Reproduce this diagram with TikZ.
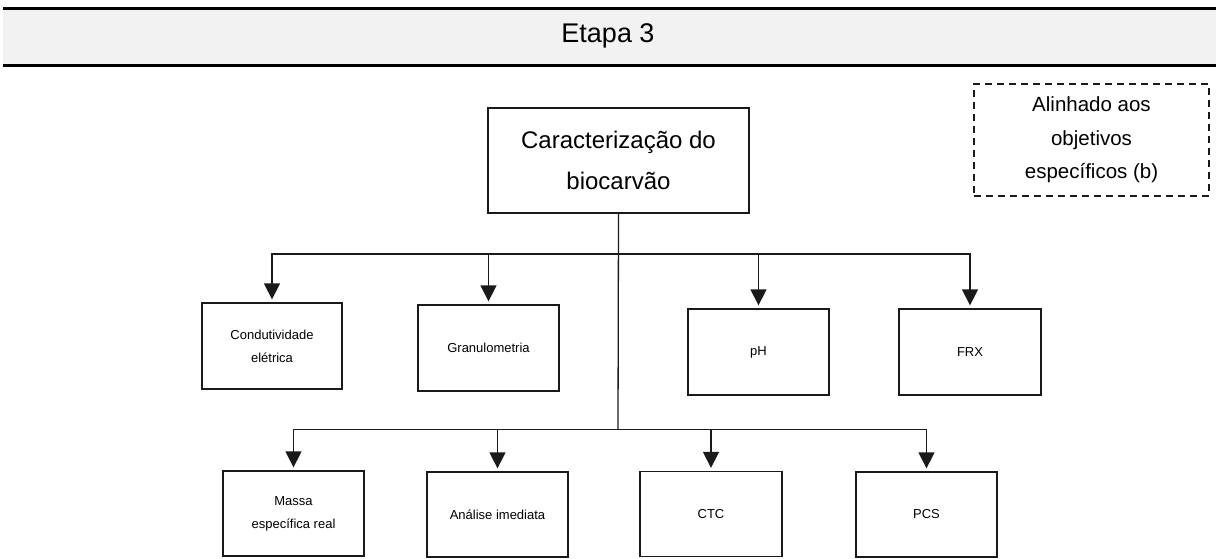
\documentclass[tikz,border=0pt]{standalone}
\usepackage{fontspec}
\setmainfont{Liberation Sans}
\usetikzlibrary{arrows.meta}
\definecolor{bandgray}{HTML}{F2F2F2}
\definecolor{linec}{HTML}{1A1A1A}
\tikzset{
  box/.style={draw=linec, line width=1.3pt, fill=white, align=center, inner sep=0pt},
  smallbox/.style={box, minimum width=141pt, minimum height=86pt, font=\fontsize{13}{23}\selectfont},
  mainbox/.style={box, minimum width=261pt, minimum height=105pt, font=\fontsize{24}{41}\selectfont},
  notebox/.style={draw=linec, line width=1.2pt, dash pattern=on 7pt off 5pt, align=center, inner sep=0pt,
     minimum width=235pt, minimum height=112pt, font=\fontsize{20.5}{33.5}\selectfont},
  conn/.style={draw=linec, line width=1.3pt},
  arr/.style={conn, -{Triangle[length=16pt,width=16pt]}, shorten >=3pt},
}
\begin{document}
\begin{tikzpicture}[x=1pt,y=-1pt]
\useasboundingbox (0,0) rectangle (1216,558);
% header band
\fill[bandgray] (3,9) rectangle (1216,65);
\draw[black, line width=2.2pt] (3,8.5) -- (1216,8.5);
\draw[black, line width=2.2pt] (3,65.5) -- (1216,65.5);
\node[font=\fontsize{27}{30}\selectfont, inner sep=0pt] (title) at (608,36) {Etapa 3};
% main box
\node[mainbox] (main) at (618.5,160.5) {Caracterização do\\biocarvão};
% note box
\node[notebox] (note) at (1091.5,140) {Alinhado aos\\objetivos\\específicos (b)};
% first row
\node[smallbox, minimum width=140pt] (cond) at (272,346) {Condutividade\\elétrica};
\node[smallbox] (gran) at (488.5,348) {Granulometria};
\node[smallbox] (ph) at (758.5,352) {pH};
\node[smallbox, minimum width=142pt] (frx) at (970,352) {FRX};
% second row
\node[smallbox, minimum height=85pt] (massa) at (293.5,513.5) {Massa\\específica real};
\node[smallbox, minimum height=85pt] (ana) at (497.5,514.5) {Análise imediata};
\node[smallbox, minimum width=142pt, minimum height=85pt] (ctc) at (711,514) {CTC};
\node[smallbox, minimum height=85pt] (pcs) at (926.5,514.5) {PCS};
% junctions
\coordinate (jt) at (618,254);
\coordinate (jb) at (618,429.5);
\draw[conn] (main.south) -- (jb);
\draw[arr] (jt) -| (cond.north);
\draw[arr] (jt) -| (gran.north);
\draw[arr] (jt) -| (ph.north);
\draw[arr] (jt) -| (frx.north);
\draw[arr] (jb) -| (massa.north);
\draw[arr] (jb) -| (ana.north);
\draw[arr] (jb) -| (ctc.north);
\draw[arr] (jb) -| (pcs.north);
\end{tikzpicture}
\end{document}
